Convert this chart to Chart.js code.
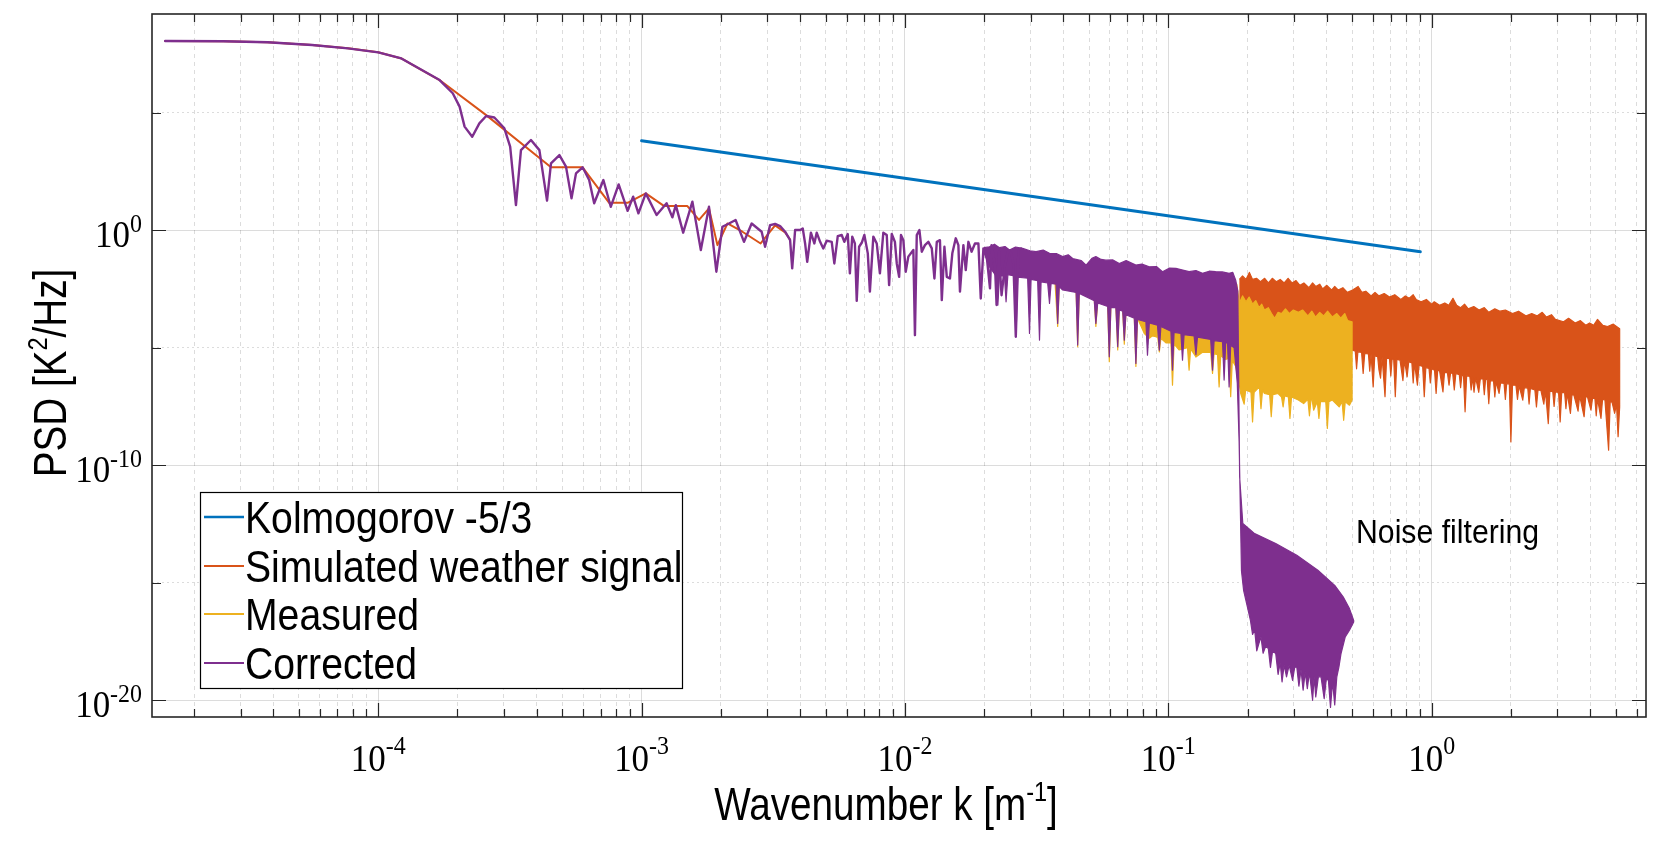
<!DOCTYPE html>
<html>
<head>
<meta charset="utf-8">
<title>PSD</title>
<script src="https://cdn.jsdelivr.net/npm/chart.js@4.4.1/dist/chart.umd.min.js"></script>
<style>
  html, body { margin: 0; padding: 0; background: #fff; }
  #wrap { width: 1656px; height: 844px; }
</style>
</head>
<body>
<div id="wrap"><canvas id="psd" width="1656" height="844"></canvas></div>
<script>
// all values as [log10 k, log10 PSD]

// axis limits (log10)
const xMinExp = -4.859, xMaxExp = 0.814;
const yMinExp = -20.71, yMaxExp = 9.19;

// tick labels
const xTickExps = [-4, -3, -2, -1, 0];
const yTickExps = [0, -10, -20];
const yGridExps = [-20, -15, -10, -5, 0, 5];

// legend names
const seriesNames = ['Kolmogorov -5/3', 'Simulated weather signal', 'Measured', 'Corrected'];

// Kolmogorov reference line
const kolmogorov = [[-3.0, 3.80], [-0.043, -0.92]];

// Simulated weather signal: low-k line, then noisy band (top / bottom edge)
const simLow = [
  [-4.809, 8.04], [-4.589, 8.03], [-4.420, 7.99], [-4.251, 7.87], [-4.115, 7.73], [-4.000, 7.56],
  [-3.912, 7.30], [-3.868, 7.02], [-3.767, 6.38], [-3.590, 4.89], [-3.344, 2.67], [-3.224, 2.67],
  [-3.123, 1.16], [-3.053, 1.16], [-2.984, 1.56], [-2.914, 1.02], [-2.826, 1.02], [-2.782, 0.43],
  [-2.744, 0.92], [-2.712, -0.64], [-2.674, 0.28], [-2.617, -0.07], [-2.548, -0.57], [-2.493, 0.20],
  [-2.455, -0.10], [-2.436, -0.40]
];
const simTop = [
  [-0.730, -2.10], [-0.718, -1.95], [-0.705, -2.10], [-0.692, -1.80], [-0.680, -2.10], [-0.665, -2.05],
  [-0.650, -2.20], [-0.634, -2.05], [-0.620, -2.25], [-0.605, -2.05], [-0.590, -2.20], [-0.575, -2.10],
  [-0.560, -2.25], [-0.545, -2.05], [-0.530, -2.25], [-0.515, -2.15], [-0.500, -2.35], [-0.485, -2.25],
  [-0.466, -2.45], [-0.452, -2.25], [-0.440, -2.40], [-0.425, -2.30], [-0.414, -2.50], [-0.398, -2.35],
  [-0.380, -2.55], [-0.368, -2.40], [-0.355, -2.55], [-0.337, -2.45], [-0.320, -2.65], [-0.300, -2.55],
  [-0.279, -2.40], [-0.265, -2.65], [-0.250, -2.60], [-0.230, -2.80], [-0.215, -2.65], [-0.200, -2.80],
  [-0.180, -2.70], [-0.160, -2.85], [-0.140, -2.75], [-0.117, -2.95], [-0.100, -2.80], [-0.085, -2.90],
  [-0.070, -2.75], [-0.059, -2.95], [-0.040, -3.05], [-0.020, -2.95], [0.000, -3.15], [0.010, -3.05],
  [0.030, -3.20], [0.050, -3.10], [0.065, -3.20], [0.081, -2.90], [0.095, -3.20], [0.110, -3.30],
  [0.125, -3.15], [0.139, -3.35], [0.160, -3.25], [0.180, -3.40], [0.200, -3.30], [0.217, -3.50],
  [0.240, -3.35], [0.260, -3.45], [0.280, -3.40], [0.307, -3.55], [0.330, -3.45], [0.359, -3.65],
  [0.380, -3.55], [0.400, -3.65], [0.420, -3.50], [0.436, -3.70], [0.455, -3.60], [0.470, -3.80],
  [0.501, -3.90], [0.520, -3.75], [0.545, -3.95], [0.565, -3.85], [0.585, -4.05], [0.600, -3.95],
  [0.615, -4.05], [0.630, -3.80], [0.650, -4.05], [0.668, -4.10], [0.690, -4.00], [0.714, -4.20]
];
const simBot = [
  [-0.730, -5.00], [-0.300, -5.11], [-0.290, -5.15], [-0.285, -5.90], [-0.280, -5.18], [-0.266, -5.20],
  [-0.260, -6.10], [-0.254, -5.25], [-0.240, -5.27], [-0.235, -6.00], [-0.230, -5.28], [-0.222, -6.67],
  [-0.216, -5.35], [-0.205, -5.38], [-0.200, -5.95], [-0.194, -6.30], [-0.188, -5.40], [-0.177, -7.09],
  [-0.171, -5.45], [-0.160, -5.47], [-0.155, -6.20], [-0.150, -5.48], [-0.144, -5.50], [-0.138, -7.09],
  [-0.132, -5.50], [-0.120, -5.53], [-0.109, -6.40], [-0.103, -5.55], [-0.093, -6.24], [-0.087, -5.60],
  [-0.075, -5.65], [-0.070, -6.50], [-0.065, -5.66], [-0.054, -6.60], [-0.048, -5.75], [-0.034, -5.80],
  [-0.028, -7.09], [-0.022, -5.85], [-0.010, -5.88], [-0.005, -6.50], [0.000, -5.90], [0.011, -5.96],
  [0.017, -6.95], [0.023, -5.97], [0.030, -5.98], [0.043, -6.88], [0.049, -6.05], [0.060, -6.06],
  [0.066, -6.60], [0.072, -6.08], [0.080, -6.10], [0.086, -6.80], [0.092, -6.10], [0.105, -6.15],
  [0.110, -6.70], [0.115, -6.17], [0.121, -6.20], [0.127, -7.73], [0.133, -6.20], [0.145, -6.22],
  [0.150, -6.80], [0.155, -6.25], [0.161, -6.90], [0.167, -6.28], [0.179, -6.90], [0.185, -6.32],
  [0.195, -6.33], [0.200, -7.00], [0.205, -6.34], [0.211, -6.35], [0.217, -7.38], [0.223, -6.40],
  [0.235, -6.42], [0.240, -7.10], [0.245, -6.44], [0.256, -6.95], [0.262, -6.50], [0.275, -6.52],
  [0.280, -7.20], [0.285, -6.53], [0.295, -6.55], [0.301, -9.01], [0.307, -6.60], [0.320, -6.60],
  [0.326, -7.20], [0.332, -6.62], [0.346, -7.23], [0.352, -6.70], [0.365, -6.72], [0.370, -7.40],
  [0.375, -6.74], [0.392, -6.80], [0.398, -7.52], [0.404, -6.80], [0.415, -6.82], [0.426, -7.40],
  [0.432, -6.84], [0.443, -8.23], [0.449, -6.85], [0.460, -6.87], [0.465, -7.50], [0.470, -6.88],
  [0.482, -6.90], [0.488, -8.16], [0.494, -6.90], [0.505, -6.92], [0.510, -7.60], [0.515, -6.94],
  [0.527, -7.80], [0.533, -7.00], [0.540, -7.01], [0.556, -7.70], [0.562, -7.04], [0.579, -7.94],
  [0.585, -7.10], [0.592, -7.10], [0.605, -7.66], [0.611, -7.15], [0.620, -7.17], [0.625, -7.90],
  [0.630, -7.18], [0.643, -8.01], [0.649, -7.20], [0.658, -7.22], [0.672, -9.36], [0.678, -7.30],
  [0.685, -7.32], [0.695, -7.80], [0.702, -7.40], [0.708, -8.79], [0.714, -7.52]
];

// Measured: band (mostly hidden under Corrected below 0.18 m^-1)
const measTop = [
  [-1.430, -1.60], [-1.200, -1.75], [-1.000, -2.00], [-0.800, -2.20], [-0.740, -2.30], [-0.730, -3.10],
  [-0.718, -2.80], [-0.705, -3.05], [-0.693, -2.85], [-0.680, -3.15], [-0.668, -3.00], [-0.655, -3.30],
  [-0.645, -3.15], [-0.635, -3.40], [-0.620, -3.30], [-0.608, -3.55], [-0.596, -3.75], [-0.583, -3.50],
  [-0.570, -3.55], [-0.555, -3.35], [-0.540, -3.55], [-0.525, -3.40], [-0.506, -3.50], [-0.490, -3.40],
  [-0.470, -3.65], [-0.455, -3.45], [-0.441, -3.70], [-0.425, -3.50], [-0.410, -3.65], [-0.395, -3.45],
  [-0.377, -3.70], [-0.360, -3.55], [-0.345, -3.75], [-0.330, -3.55], [-0.319, -3.85], [-0.302, -3.90]
];
const measBot = [
  [-1.430, -2.25], [-1.420, -4.10], [-1.414, -2.35], [-1.401, -2.50], [-1.350, -2.60], [-1.344, -4.96],
  [-1.338, -2.65], [-1.281, -2.95], [-1.275, -4.10], [-1.268, -3.05], [-1.230, -3.20], [-1.224, -5.60],
  [-1.218, -3.25], [-1.199, -3.25], [-1.192, -5.10], [-1.186, -3.35], [-1.173, -3.40], [-1.167, -4.85],
  [-1.161, -3.55], [-1.129, -3.70], [-1.123, -5.80], [-1.117, -3.75], [-1.091, -4.40], [-1.072, -4.60],
  [-1.060, -4.50], [-1.040, -4.55], [-1.034, -5.18], [-1.028, -4.60], [-1.009, -4.80], [-0.990, -4.80],
  [-0.984, -6.60], [-0.978, -4.85], [-0.959, -5.10], [-0.927, -5.00], [-0.921, -5.96], [-0.915, -5.05],
  [-0.895, -5.40], [-0.870, -5.20], [-0.839, -5.20], [-0.832, -6.10], [-0.826, -5.25], [-0.813, -5.30],
  [-0.807, -6.67], [-0.801, -5.35], [-0.782, -5.50], [-0.769, -5.45], [-0.763, -7.09], [-0.757, -5.55],
  [-0.744, -5.80], [-0.730, -6.60], [-0.725, -6.95], [-0.712, -7.40], [-0.706, -6.80], [-0.686, -6.90],
  [-0.680, -8.16], [-0.674, -6.90], [-0.654, -6.67], [-0.648, -7.60], [-0.642, -6.80], [-0.635, -6.95],
  [-0.615, -7.00], [-0.609, -7.94], [-0.603, -7.00], [-0.583, -6.95], [-0.570, -7.10], [-0.564, -7.52],
  [-0.558, -7.05], [-0.544, -7.10], [-0.538, -8.01], [-0.532, -7.10], [-0.506, -7.23], [-0.486, -7.38],
  [-0.470, -7.20], [-0.464, -7.90], [-0.458, -7.20], [-0.454, -7.20], [-0.448, -7.66], [-0.434, -7.30],
  [-0.428, -8.01], [-0.422, -7.30], [-0.402, -7.30], [-0.396, -8.44], [-0.390, -7.30], [-0.377, -7.23],
  [-0.351, -7.52], [-0.340, -7.30], [-0.334, -8.09], [-0.328, -7.30], [-0.312, -7.45], [-0.302, -7.23]
];

// Corrected: low-k line, then dense band, drop at 0.18 m^-1 and filtered tail
const corrLow = [
  [-4.809, 8.04], [-4.589, 8.03], [-4.420, 7.99], [-4.251, 7.87], [-4.115, 7.73], [-4.000, 7.56],
  [-3.912, 7.30], [-3.868, 7.02], [-3.767, 6.38], [-3.717, 5.82], [-3.691, 5.25], [-3.672, 4.40],
  [-3.643, 3.97], [-3.616, 4.54], [-3.590, 4.85], [-3.559, 4.79], [-3.521, 4.33], [-3.499, 3.55],
  [-3.477, 1.06], [-3.458, 3.40], [-3.420, 3.83], [-3.388, 3.40], [-3.359, 1.25], [-3.344, 2.84],
  [-3.312, 3.19], [-3.287, 2.70], [-3.266, 1.35], [-3.249, 2.41], [-3.224, 2.67], [-3.199, 2.13],
  [-3.180, 1.14], [-3.145, 2.13], [-3.117, 0.99], [-3.087, 1.94], [-3.053, 0.82], [-3.032, 1.42],
  [-3.012, 0.71], [-2.984, 1.56], [-2.943, 0.64], [-2.905, 1.14], [-2.883, 0.54], [-2.870, 1.06],
  [-2.842, -0.11], [-2.807, 1.21], [-2.775, -0.85], [-2.744, 0.99], [-2.716, -1.77], [-2.693, 0.14],
  [-2.668, 0.28], [-2.643, 0.43], [-2.611, -0.50], [-2.582, 0.28], [-2.544, -0.07], [-2.531, -0.71],
  [-2.512, 0.21], [-2.493, 0.26], [-2.474, 0.17], [-2.455, -0.07], [-2.436, -0.43], [-2.428, -1.63],
  [-2.417, 0.00], [-2.398, 0.00], [-2.388, 0.07], [-2.379, -0.57], [-2.371, -1.35], [-2.357, -0.11],
  [-2.344, -0.57], [-2.335, -0.11], [-2.322, -0.50], [-2.310, -0.78], [-2.297, -0.45], [-2.278, -0.50],
  [-2.268, -1.42], [-2.255, -0.26], [-2.240, -0.21], [-2.230, -0.50], [-2.217, -0.17], [-2.209, -1.84],
  [-2.200, -0.28], [-2.190, -0.57], [-2.183, -3.01], [-2.174, -0.71], [-2.164, -0.54], [-2.154, -0.21],
  [-2.141, -0.99], [-2.133, -2.62], [-2.120, -0.28], [-2.107, -0.57], [-2.095, -1.84], [-2.082, -0.11],
  [-2.069, -0.21], [-2.060, -2.34], [-2.050, -0.17], [-2.038, -0.50], [-2.031, -1.42], [-2.022, -1.99],
  [-2.015, -0.21], [-2.006, -0.43], [-1.997, -1.77], [-1.987, -1.13], [-1.968, -0.85], [-1.962, -4.47],
  [-1.955, -0.21], [-1.945, 0.00], [-1.936, -0.92], [-1.924, -0.64], [-1.911, -0.50], [-1.898, -0.78],
  [-1.888, -2.06], [-1.879, -0.50], [-1.867, -0.43], [-1.860, -2.98], [-1.850, -0.71], [-1.841, -1.99],
  [-1.829, -2.06], [-1.820, -0.99], [-1.807, -0.35], [-1.797, -0.64], [-1.791, -2.62], [-1.778, -0.64],
  [-1.769, -1.70], [-1.759, -0.50], [-1.747, -0.92], [-1.734, -0.57], [-1.721, -0.57], [-1.712, -2.91],
  [-1.702, -0.78], [-1.690, -1.06], [-1.677, -2.48], [-1.671, -0.64], [-1.658, -1.49], [-1.652, -3.19],
  [-1.643, -0.92], [-1.633, -2.77], [-1.620, -1.49], [-1.607, -0.85], [-1.597, -0.99], [-1.588, -1.42],
  [-1.579, -4.54], [-1.569, -0.85], [-1.559, -0.78]
];
const corrTop = [
  [-1.700, -0.75], [-1.679, -0.71], [-1.660, -0.60], [-1.641, -0.75], [-1.620, -0.70], [-1.603, -0.85],
  [-1.580, -0.72], [-1.553, -0.78], [-1.525, -0.88], [-1.502, -0.92], [-1.475, -0.85], [-1.451, -0.99],
  [-1.425, -1.00], [-1.401, -1.13], [-1.380, -1.05], [-1.363, -1.21], [-1.330, -1.30], [-1.312, -1.49],
  [-1.290, -1.20], [-1.275, -1.13], [-1.255, -1.25], [-1.237, -1.28], [-1.210, -1.27], [-1.186, -1.42],
  [-1.160, -1.30], [-1.123, -1.49], [-1.100, -1.45], [-1.072, -1.56], [-1.045, -1.55], [-1.022, -1.77],
  [-0.995, -1.62], [-0.971, -1.63], [-0.945, -1.70], [-0.921, -1.77], [-0.895, -1.72], [-0.870, -1.84],
  [-0.845, -1.75], [-0.820, -1.77], [-0.795, -1.78], [-0.769, -1.84], [-0.755, -1.80], [-0.744, -2.13],
  [-0.736, -2.60], [-0.729, -10.50], [-0.717, -12.48], [-0.672, -12.91], [-0.592, -13.33],
  [-0.512, -13.83], [-0.432, -14.47], [-0.368, -15.11], [-0.336, -15.60], [-0.312, -16.10],
  [-0.296, -16.60]
];
const corrBot = [
  [-1.700, -0.95], [-1.680, -1.55], [-1.654, -1.95], [-1.647, -3.19], [-1.641, -1.95], [-1.622, -1.95],
  [-1.616, -3.05], [-1.609, -1.90], [-1.584, -1.95], [-1.578, -4.54], [-1.572, -2.00], [-1.534, -2.05],
  [-1.527, -4.40], [-1.521, -2.10], [-1.496, -2.15], [-1.489, -4.68], [-1.483, -2.20], [-1.458, -2.25],
  [-1.451, -3.12], [-1.445, -2.27], [-1.426, -2.30], [-1.420, -3.97], [-1.414, -2.40], [-1.401, -2.55],
  [-1.350, -2.65], [-1.344, -4.89], [-1.338, -2.70], [-1.281, -3.00], [-1.275, -3.97], [-1.268, -3.10],
  [-1.230, -3.25], [-1.224, -5.39], [-1.218, -3.30], [-1.199, -3.30], [-1.192, -4.96], [-1.186, -3.40],
  [-1.173, -3.45], [-1.167, -4.68], [-1.161, -3.60], [-1.129, -3.75], [-1.123, -5.67], [-1.117, -3.80],
  [-1.085, -3.90], [-1.079, -5.32], [-1.072, -3.95], [-1.041, -4.05], [-1.034, -5.11], [-1.028, -4.10],
  [-0.990, -4.30], [-0.984, -5.96], [-0.978, -4.35], [-0.952, -4.40], [-0.946, -5.53], [-0.940, -4.45],
  [-0.902, -4.50], [-0.895, -5.30], [-0.889, -4.55], [-0.839, -4.65], [-0.832, -5.96], [-0.826, -4.70],
  [-0.794, -4.75], [-0.788, -6.38], [-0.782, -4.80], [-0.775, -4.80], [-0.769, -6.67], [-0.763, -4.90],
  [-0.750, -5.00], [-0.738, -6.50], [-0.731, -9.00], [-0.722, -14.50], [-0.714, -15.32],
  [-0.700, -16.00], [-0.688, -16.60], [-0.680, -17.20], [-0.672, -17.00], [-0.664, -17.90],
  [-0.656, -17.59], [-0.648, -17.30], [-0.640, -18.00], [-0.630, -17.70], [-0.620, -17.80],
  [-0.612, -18.60], [-0.604, -17.90], [-0.592, -18.01], [-0.583, -18.90], [-0.575, -18.40],
  [-0.568, -19.22], [-0.560, -18.50], [-0.551, -19.00], [-0.541, -18.50], [-0.528, -19.15],
  [-0.520, -18.60], [-0.512, -18.58], [-0.504, -19.40], [-0.496, -18.70], [-0.488, -19.57],
  [-0.480, -18.80], [-0.472, -19.50], [-0.464, -18.80], [-0.452, -20.00], [-0.446, -19.00],
  [-0.440, -19.86], [-0.430, -19.00], [-0.420, -19.00], [-0.408, -19.93], [-0.400, -19.10],
  [-0.392, -19.15], [-0.384, -20.30], [-0.376, -19.20], [-0.368, -20.20], [-0.360, -19.00],
  [-0.352, -18.58], [-0.344, -18.01], [-0.328, -17.30], [-0.312, -17.02], [-0.296, -16.67]
];

const colors = { kol: '#0072BD', sim: '#D95319', meas: '#EDB120', corr: '#7E2F8E' };
const axisColor = '#262626';
const serif = '"Liberation Serif", "Times New Roman", serif';
const sans = '"Liberation Sans", Arial, sans-serif';

// helpers
const toPts = rows => rows.map(([k, p]) => ({ x: Math.pow(10, k), y: Math.pow(10, p) }));
const shape = (top, bot) => toPts(top).concat(toPts(bot).reverse());
const isDecade = v => Math.abs(Math.log10(v) - Math.round(Math.log10(v))) < 1e-6;

function lineSet(label, rows, color, width, order) {
    return {
        label: label, data: toPts(rows), showLine: true, fill: false, order: order,
        borderColor: color, borderWidth: width, pointRadius: 0, tension: 0,
        borderJoinStyle: 'round', borderCapStyle: 'round'
    };
}

function bandSet(label, top, bot, color, order) {
    return {
        label: label, data: shape(top, bot), showLine: true, fill: 'shape', order: order,
        borderColor: color, backgroundColor: color, borderWidth: 1.2, pointRadius: 0, tension: 0,
        borderJoinStyle: 'round'
    };
}

// grid positions for the x axis (1..9 x 10^n inside the range)
const xGrid = [];
for (let e = -5; e <= 0; e++) {
    for (let m = 1; m <= 9; m++) {
        const v = m * Math.pow(10, e);
        if (Math.log10(v) >= xMinExp && Math.log10(v) <= xMaxExp) xGrid.push(v);
    }
}
const yGrid = yGridExps.map(e => Math.pow(10, e));

const gridColor = 'rgba(38,38,38,0.16)';

// draws text made of pieces (for superscripts), squeezed horizontally by sx
function richText(ctx, parts, x, y, align, sx) {
    let w = 0;
    const widths = parts.map(p => {
        ctx.font = p[1] + 'px ' + p[2];
        const pw = ctx.measureText(p[0]).width;
        w += pw;
        return pw;
    });
    ctx.save();
    ctx.translate(x, y);
    ctx.scale(sx, 1);
    ctx.textAlign = 'left';
    ctx.textBaseline = 'alphabetic';
    let cx = align === 'center' ? -w / 2 : (align === 'right' ? -w : 0);
    parts.forEach((p, i) => {
        ctx.font = p[1] + 'px ' + p[2];
        ctx.fillText(p[0], cx, -p[3]);
        cx += widths[i];
    });
    ctx.restore();
}

const decorations = {
    id: 'decorations',
    afterDraw(chart) {
        const { ctx, chartArea: a, scales: { x, y } } = chart;
        ctx.save();
        ctx.strokeStyle = axisColor;
        ctx.fillStyle = '#000';
        ctx.lineWidth = 1.2;

        // inward ticks on all four sides
        ctx.beginPath();
        xGrid.forEach(v => {
            const px = Math.round(x.getPixelForValue(v)) + 0.5;
            const len = isDecade(v) ? 14 : 8;
            ctx.moveTo(px, a.bottom); ctx.lineTo(px, a.bottom - len);
            ctx.moveTo(px, a.top); ctx.lineTo(px, a.top + len);
        });
        yGridExps.forEach(e => {
            const py = Math.round(y.getPixelForValue(Math.pow(10, e))) + 0.5;
            const len = e % 10 === 0 ? 14 : 9;
            ctx.moveTo(a.left, py); ctx.lineTo(a.left + len, py);
            ctx.moveTo(a.right, py); ctx.lineTo(a.right - len, py);
        });
        ctx.stroke();

        // box
        ctx.lineWidth = 1.6;
        ctx.strokeRect(a.left, a.top, a.right - a.left, a.bottom - a.top);

        // tick labels
        xTickExps.forEach(e => {
            const px = x.getPixelForValue(Math.pow(10, e));
            richText(ctx, [['10', 38, serif, 0], [String(e), 26, serif, 17]], px, 771, 'center', 0.92);
        });
        yTickExps.forEach(e => {
            const py = y.getPixelForValue(Math.pow(10, e));
            richText(ctx, [['10', 38, serif, 0], [String(e), 26, serif, 15]], a.left - 10, py + 17, 'right', 0.92);
        });

        // axis titles
        richText(ctx, [['Wavenumber k [m', 46, sans, 0], ['-1', 28, sans, 19], [']', 46, sans, 0]], 886, 820, 'center', 0.84);
        ctx.save();
        ctx.translate(66, 373);
        ctx.rotate(-Math.PI / 2);
        richText(ctx, [['PSD [K', 46, sans, 0], ['2', 28, sans, 19], ['/Hz]', 46, sans, 0]], 0, 0, 'center', 0.84);
        ctx.restore();

        // annotation
        richText(ctx, [['Noise filtering', 32.5, sans, 0]], 1356, 543, 'left', 0.93);

        // legend box
        const lg = { x: 200, y: 492, w: 482, h: 196 };
        ctx.fillStyle = '#fff';
        ctx.fillRect(lg.x, lg.y, lg.w, lg.h);
        ctx.strokeStyle = '#000';
        ctx.lineWidth = 1.2;
        ctx.strokeRect(lg.x + 0.5, lg.y + 0.5, lg.w, lg.h);
        const rowY = [517, 566, 614, 663];
        const rowC = [colors.kol, colors.sim, colors.meas, colors.corr];
        seriesNames.forEach((name, i) => {
            ctx.strokeStyle = rowC[i];
            ctx.lineWidth = i === 0 ? 2.6 : 2;
            ctx.beginPath();
            ctx.moveTo(204, rowY[i]); ctx.lineTo(244, rowY[i]);
            ctx.stroke();
            ctx.fillStyle = '#000';
            richText(ctx, [[name, 44, sans, 0]], 245, rowY[i] + 16, 'left', 0.89);
        });
        ctx.restore();
    }
};

const datasets = [
    lineSet(seriesNames[0], kolmogorov, colors.kol, 3, 0),
    lineSet(seriesNames[1], simLow, colors.sim, 2, 3),
    bandSet(seriesNames[1], simTop, simBot, colors.sim, 3),
    bandSet(seriesNames[2], measTop, measBot, colors.meas, 2),
    lineSet(seriesNames[3], corrLow, colors.corr, 2.4, 1),
    bandSet(seriesNames[3], corrTop, corrBot, colors.corr, 1)
];

new Chart(document.getElementById('psd'), {
    type: 'scatter',
    data: { datasets: datasets },
    options: {
        responsive: false,
        animation: false,
        devicePixelRatio: 1,
        layout: { padding: { left: 152, right: 10, top: 14, bottom: 127 } },
        plugins: { legend: { display: false }, tooltip: { enabled: false } },
        scales: {
            x: {
                type: 'logarithmic',
                bounds: 'data',
                min: Math.pow(10, xMinExp),
                max: Math.pow(10, xMaxExp),
                afterBuildTicks: s => { s.ticks = xGrid.map(v => ({ value: v })); },
                ticks: { display: false, autoSkip: false },
                grid: { drawTicks: false, lineWidth: 1, color: gridColor },
                border: { display: false, dash: c => (c.tick && !isDecade(c.tick.value)) ? [4, 4] : [] }
            },
            y: {
                type: 'logarithmic',
                bounds: 'data',
                min: Math.pow(10, yMinExp),
                max: Math.pow(10, yMaxExp),
                afterBuildTicks: s => { s.ticks = yGrid.map(v => ({ value: v })); },
                ticks: { display: false, autoSkip: false },
                grid: { drawTicks: false, lineWidth: 1, color: gridColor },
                border: {
                    display: false,
                    dash: c => (c.tick && Math.round(Math.log10(c.tick.value)) % 10 !== 0) ? [2, 3] : []
                }
            }
        }
    },
    plugins: [decorations]
});
</script>
</body>
</html>
